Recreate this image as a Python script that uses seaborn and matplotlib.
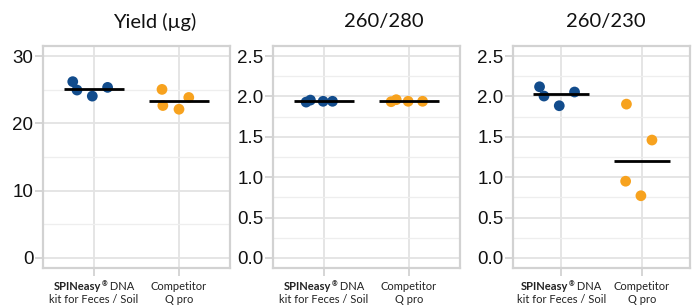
import numpy as np
import pandas as pd
import matplotlib
matplotlib.use("Agg")
import matplotlib.pyplot as plt
from matplotlib.ticker import MultipleLocator
from matplotlib.offsetbox import TextArea, HPacker, VPacker, AnnotationBbox
import seaborn as sns

# data (4 replicates per kit)
groups = ["SPINeasy", "Competitor"]
titles = ["Yield (µg)", "260/280", "260/230"]

yield_spin = [26.2, 24.95, 24.05, 25.35]
yield_comp = [25.05, 22.65, 22.1, 23.85]
r280_spin = [1.93, 1.955, 1.94, 1.94]
r280_comp = [1.935, 1.96, 1.94, 1.94]
r230_spin = [2.12, 2.005, 1.885, 2.055]
r230_comp = [1.905, 1.46, 0.95, 0.77]

# horizontal jitter used in the picture (category units)
jitter_1 = [-0.25, -0.2, -0.02, 0.16, -0.2, -0.19, 0.0, 0.115]
jitter_2 = [-0.21, -0.16, -0.01, 0.1, -0.21, -0.15, -0.01, 0.16]
jitter_3 = [-0.27, -0.215, -0.025, 0.165, -0.19, 0.127, -0.2, -0.01]

y_tops = [30, 2.5, 2.5]
y_steps = [10, 0.5, 0.5]

colors = {"SPINeasy": "#124c8c", "Competitor": "#f7a21e"}


def make_df(spin, comp, jit):
    df = pd.DataFrame({"kit": [groups[0]] * len(spin) + [groups[1]] * len(comp),
                       "value": spin + comp})
    df["xpos"] = df["kit"].map({g: i for i, g in enumerate(groups)}) + np.array(jit)
    return df


panels = [make_df(yield_spin, yield_comp, jitter_1),
          make_df(r280_spin, r280_comp, jitter_2),
          make_df(r230_spin, r230_comp, jitter_3)]

sns.set_theme(style="white")
plt.rcParams["font.family"] = ["Liberation Sans", "DejaVu Sans"]

W, H = 693, 306
fig = plt.figure(figsize=(W / 100, H / 100), dpi=100)

# axes boxes in pixels: left, right
boxes = [(43, 230), (273, 460), (513, 690)]
title_x = [155, 383.5, 605.5]
frame_col = "#d2d2d2"
lab = dict(fontfamily="Lato", fontsize=8, color="#222222")


def tick_label(j):
    # two line category label, first kit has a bold brand name
    if j == 0:
        line1 = HPacker(children=[TextArea("SPINeasy", textprops=dict(lab, fontweight="bold")),
                                  TextArea("®", textprops=dict(lab, fontsize=5, fontweight="bold")),
                                  TextArea(" DNA", textprops=lab)],
                        align="top", pad=0, sep=0)
        line2 = TextArea("kit for Feces / Soil", textprops=lab)
    else:
        line1 = TextArea("Competitor", textprops=lab)
        line2 = TextArea("Q pro", textprops=lab)
    return VPacker(children=[line1, line2], align="center", pad=0, sep=2)


for i, df in enumerate(panels):
    l, r = boxes[i]
    ax = fig.add_axes([l / W, 38 / H, (r - l) / W, 222 / H])
    top = y_tops[i]
    ax.set_xlim(-0.6, 1.6)
    ax.set_ylim(-0.05 * top, 1.05 * top)
    ax.yaxis.set_major_locator(MultipleLocator(y_steps[i]))
    ax.yaxis.set_minor_locator(MultipleLocator(y_steps[i] / 2))
    ax.set_xticks(range(len(groups)))
    ax.set_xticklabels([])
    ax.grid(True, which="major", color="#e3e3e3", linewidth=1.3)
    ax.grid(True, which="minor", axis="y", color="#eeeeee", linewidth=0.9)
    ax.set_axisbelow(True)

    sns.scatterplot(data=df, x="xpos", y="value", hue="kit", palette=colors,
                    s=60, linewidth=0, legend=False, ax=ax, zorder=3)
    med = df.groupby("kit", sort=False)["value"].median()
    for j, g in enumerate(groups):
        ax.hlines(med[g], j - 0.35, j + 0.35, color="black", linewidth=2, zorder=4)
        ab = AnnotationBbox(tick_label(j), (j, 0), xycoords=("data", "axes fraction"),
                            xybox=(0, -9), boxcoords="offset points",
                            box_alignment=(0.5, 1), frameon=False, annotation_clip=False)
        ax.add_artist(ab)

    ax.set_xlabel("")
    ax.set_ylabel("")
    ax.tick_params(axis="y", which="major", labelsize=13.5, length=6, width=1.3,
                   color=frame_col, pad=1, labelcolor="#111111", left=True)
    ax.tick_params(axis="y", which="minor", length=0)
    ax.tick_params(axis="x", length=6, width=1.3, color=frame_col, pad=2, bottom=True)
    for sp in ax.spines.values():
        sp.set_color(frame_col)
        sp.set_linewidth(1.6)

    fig.text(title_x[i] / W, 1 - 22 / H, titles[i], ha="center", va="center",
             fontsize=14.5, fontfamily="Lato", color="#111111")

fig.savefig("out.png", dpi=100)
